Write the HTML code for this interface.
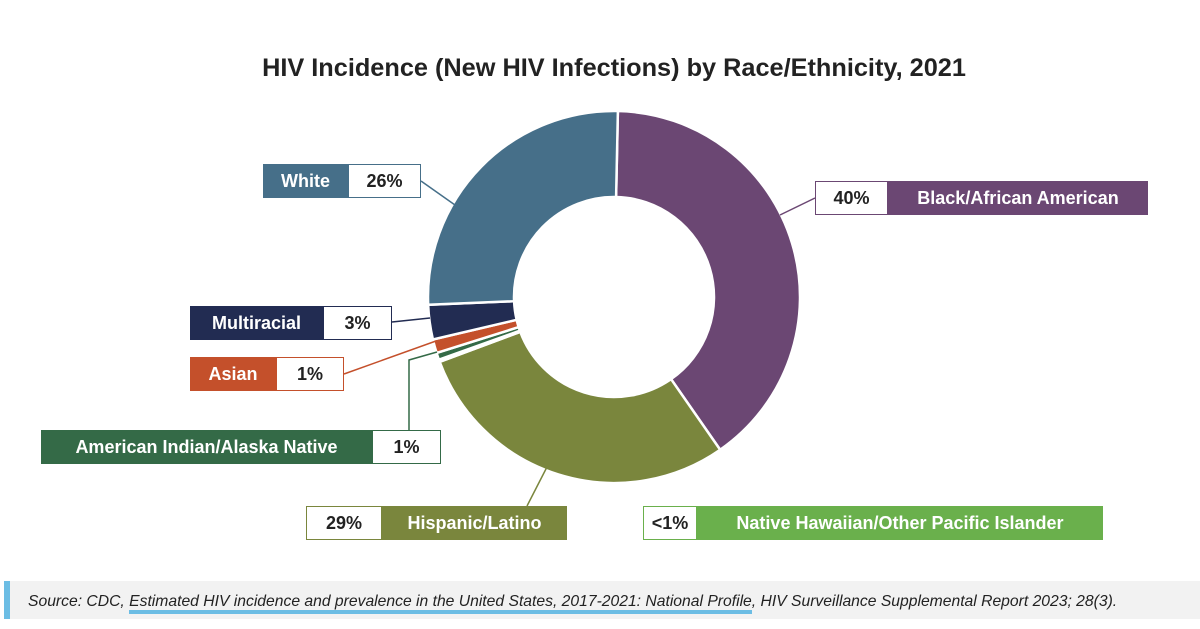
<!DOCTYPE html>
<html><head><meta charset="utf-8"><style>
body{margin:0;background:#fff;font-family:"Liberation Sans",sans-serif;}
#wrap{position:relative;width:1200px;height:629px;overflow:hidden;}
.title{position:absolute;left:0;width:1228px;top:54px;text-align:center;font-size:25.3px;font-weight:bold;color:#222;}
.lbl{position:absolute;height:34px;display:flex;font-size:18px;font-weight:bold;}
.lbl div{display:flex;align-items:center;justify-content:center;box-sizing:border-box;}
.src{position:absolute;left:4px;top:581px;width:1196px;height:38px;background:#f2f2f2;border-left:6px solid #6cbde4;box-sizing:border-box;font-style:italic;font-size:15.7px;color:#222;padding:12px 0 0 18px;white-space:nowrap;}
.src u{text-decoration:none;border-bottom:4px solid #6cbde4;}
</style></head><body>
<div id="wrap">
<div class="title">HIV Incidence (New HIV Infections) by Race/Ethnicity, 2021</div>
<svg id="svg" width="1200" height="629" style="position:absolute;left:0;top:0"></svg>
<div class="src">Source: CDC, <u>Estimated HIV incidence and prevalence in the United States, 2017-2021: National Profile</u>, HIV Surveillance Supplemental Report 2023; 28(3).</div>
</div>
<script>
const categories=["Black/African American","Hispanic/Latino","Native Hawaiian/Other Pacific Islander","American Indian/Alaska Native","Asian","Multiracial","White"];
const values=[40,29,0.2,0.6,1.2,3,26];
const printed=["40%","29%","<1%","1%","1%","3%","26%"];
const colors=["#6b4773","#7a863d","#6ab04c","#346a47","#c4502b","#222c52","#466f89"];
const cx=614,cy=297,R=186,r=100,start=1.2;
const svg=document.getElementById('svg');const NS="http://www.w3.org/2000/svg";
const total=values.reduce((a,b)=>a+b,0);
function pt(deg,rad){const a=(deg-90)*Math.PI/180;return [cx+rad*Math.cos(a),cy+rad*Math.sin(a)];}
let acc=start;
values.forEach((v,i)=>{
 const a0=acc,a1=acc+v/total*360;acc=a1;
 const p0=pt(a0,R),p1=pt(a1,R),q1=pt(a1,r),q0=pt(a0,r);const lg=(a1-a0)>180?1:0;
 const p=document.createElementNS(NS,'path');
 p.setAttribute('d',`M${p0}A${R},${R} 0 ${lg} 1 ${p1}L${q1}A${r},${r} 0 ${lg} 0 ${q0}Z`);
 p.setAttribute('fill',colors[i]);p.setAttribute('stroke','#fff');p.setAttribute('stroke-width','2.5');
 
 
 svg.appendChild(p);
});
const leaders=[["M815,198L780,215",0],["M527,506L548,465",1],["M409,464L409,360L437,352",3],["M344,374L436,341",4],["M392,322L430,318",5],["M421,181L455,205",6]];
leaders.forEach(([d,i])=>{const l=document.createElementNS(NS,'path');l.setAttribute('d',d);l.setAttribute('fill','none');l.setAttribute('stroke',colors[i]);l.setAttribute('stroke-width','1.5');
 
 
 svg.appendChild(l);});
const boxes=[[0,815,181,260,73,true],[1,306,506,185,76,true],[2,643,506,406,54,true],[3,41,430,331,69,false],[4,190,357,86,68,false],[5,190,306,133,69,false],[6,263,164,85,73,false]];
const wrap=document.getElementById('wrap');
boxes.forEach(([i,x,y,cw,ww,wf])=>{
 const d=document.createElement('div');d.className='lbl';d.style.left=x+'px';d.style.top=y+'px';
 
 
 const c=`<div style="width:${cw}px;background:${colors[i]};color:#fff">${categories[i]}</div>`;
 const w=`<div style="width:${ww}px;background:#fff;border:1.5px solid ${colors[i]};color:#222">${printed[i].replace('<','&lt;')}</div>`;
 d.innerHTML=wf?w+c:c+w;wrap.appendChild(d);
});
</script>
</body></html>
